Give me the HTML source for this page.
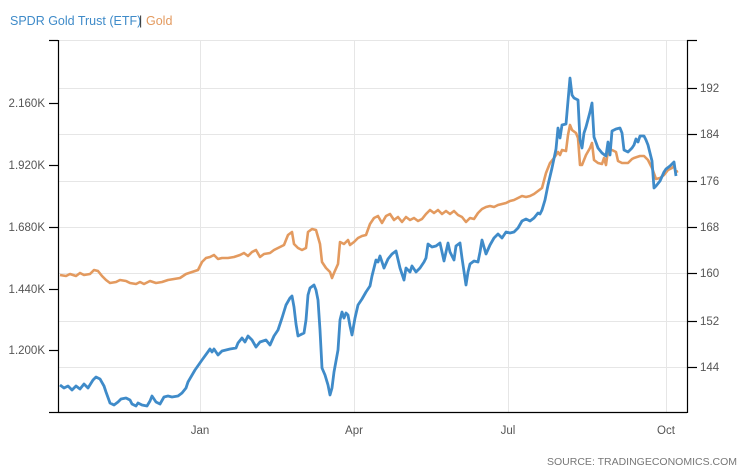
<!DOCTYPE html>
<html><head><meta charset="utf-8"><style>
body{margin:0;background:#fff;}
svg{display:block;font-family:"Liberation Sans",sans-serif;}
</style></head><body>
<svg width="746" height="468" viewBox="0 0 746 468">
<text x="10" y="25" font-size="12.5" fill="#3f8bc9">SPDR Gold Trust (ETF)</text>
<text x="139" y="25" font-size="12.5" fill="#333">|</text>
<text x="146" y="25" font-size="12.5" fill="#e39a5f">Gold</text>
<g stroke="#e6e6e6" stroke-width="1">
<line x1="59" y1="40.5" x2="687" y2="40.5"/>
<line x1="59" y1="88.5" x2="687" y2="88.5"/>
<line x1="59" y1="134.5" x2="687" y2="134.5"/>
<line x1="59" y1="181.5" x2="687" y2="181.5"/>
<line x1="59" y1="227.5" x2="687" y2="227.5"/>
<line x1="59" y1="273.5" x2="687" y2="273.5"/>
<line x1="59" y1="321.5" x2="687" y2="321.5"/>
<line x1="59" y1="367.5" x2="687" y2="367.5"/>
<line x1="200.5" y1="40" x2="200.5" y2="413"/>
<line x1="354.5" y1="40" x2="354.5" y2="413"/>
<line x1="508.5" y1="40" x2="508.5" y2="413"/>
<line x1="666.5" y1="40" x2="666.5" y2="413"/>
</g>
<g stroke="#000" stroke-width="1.2">
<line x1="58.5" y1="40" x2="58.5" y2="413"/>
<line x1="49" y1="40.5" x2="58" y2="40.5"/>
<line x1="49" y1="103.5" x2="58" y2="103.5"/>
<line x1="49" y1="165.5" x2="58" y2="165.5"/>
<line x1="49" y1="227.5" x2="58" y2="227.5"/>
<line x1="49" y1="289.5" x2="58" y2="289.5"/>
<line x1="49" y1="350.5" x2="58" y2="350.5"/>
<line x1="49" y1="412.5" x2="58" y2="412.5"/>
<line x1="58" y1="412.5" x2="687" y2="412.5"/>
<line x1="687.5" y1="40" x2="687.5" y2="413"/>
<line x1="687" y1="40.5" x2="697" y2="40.5"/>
<line x1="687" y1="88.5" x2="697" y2="88.5"/>
<line x1="687" y1="134.5" x2="697" y2="134.5"/>
<line x1="687" y1="181.5" x2="697" y2="181.5"/>
<line x1="687" y1="227.5" x2="697" y2="227.5"/>
<line x1="687" y1="273.5" x2="697" y2="273.5"/>
<line x1="687" y1="321.5" x2="697" y2="321.5"/>
<line x1="687" y1="367.5" x2="697" y2="367.5"/>
</g>
<g font-size="11.5" fill="#555" text-anchor="end">
<text x="45" y="107">2.160K</text>
<text x="45" y="169">1.920K</text>
<text x="45" y="231">1.680K</text>
<text x="45" y="293">1.440K</text>
<text x="45" y="354">1.200K</text>
</g>
<g font-size="11.5" fill="#555">
<text x="700" y="92">192</text>
<text x="700" y="138">184</text>
<text x="700" y="185">176</text>
<text x="700" y="231">168</text>
<text x="700" y="277">160</text>
<text x="700" y="325">152</text>
<text x="700" y="371">144</text>
</g>
<g font-size="11.5" fill="#555" text-anchor="middle">
<text x="200" y="434">Jan</text>
<text x="354" y="434">Apr</text>
<text x="508" y="434">Jul</text>
<text x="666" y="434">Oct</text>
</g>
<text x="737" y="465" font-size="10.5" fill="#777" text-anchor="end">SOURCE: TRADINGECONOMICS.COM</text>
<polyline fill="none" stroke="#e39a5f" stroke-width="2.6" stroke-linejoin="round" points="60,275 66,276 70,274 76,276 80,273 84,275 90,274 94,270 98,271 102,276 106,280 110,283 116,282 120,280 126,281 130,283 136,284 140,282 144,284 150,281 156,283 162,282 168,280 174,279 180,278 186,274 192,272 198,270 202,262 206,258 210,257 214,255 218,259 222,258 228,258 234,257 240,255 244,253 248,256 252,252 256,250 260,257 264,254 270,253 274,250 278,248 284,245 288,235 292,232 294,244 298,248 302,250 306,248 308,232 312,229 316,230 320,244 322,262 326,268 330,272 332,278 334,273 338,264 340,242 344,244 348,240 350,245 354,242 358,238 362,236 366,235 370,224 374,218 378,216 382,223 386,216 390,214 394,220 398,217 402,222 406,217 410,220 414,218 418,221 422,219 426,214 430,210 434,213 438,210 442,214 446,211 450,214 454,211 458,215 462,217 466,222 470,218 474,219 478,213 482,209 486,207 490,206 494,207 498,205 502,204 506,203 510,201 514,200 518,198 522,196 526,197 530,196 534,194 538,191 542,188 546,173 550,163 554,158 558,152 560,155 562,150 566,151 568,135 570,125 572,130 576,133 578,138 580,165 582,165 586,155 590,148 592,143 594,160 598,163 602,164 604,158 606,165 608,150 612,150 616,152 618,161 622,163 628,163 632,159 634,158 640,156 644,156 648,160 652,168 656,179 660,178 664,175 668,170 672,168 674,166 676,172 678,171"/>
<polyline fill="none" stroke="#3f8bc9" stroke-width="2.8" stroke-linejoin="round" points="60,385 64,388 68,386 72,390 76,386 80,389 84,384 88,388 93,380 96,377 100,379 104,386 106,392 110,403 114,405 118,402 121,399 126,398 130,400 132,404 136,406 138,403 142,405 147,406 150,401 152,396 156,402 160,404 164,397 168,396 172,397 178,396 182,393 186,388 188,382 195,370 202,360 210,349 212,352 214,349 218,355 222,351 226,350 230,349 236,348 238,343 242,338 245,342 248,336 252,340 256,347 260,342 266,340 270,345 274,336 278,330 282,318 286,305 290,298 292,296 294,307 296,324 298,336 300,335 304,333 306,320 308,295 310,288 314,285 316,290 318,300 320,330 322,368 325,375 328,385 330,395 332,388 334,372 338,350 340,320 342,312 344,318 346,313 348,315 350,326 352,335 355,318 358,305 362,299 366,292 370,286 372,276 376,260 378,262 380,256 384,268 388,259 392,254 396,251 400,268 404,280 406,268 410,272 412,266 416,272 420,268 424,262 426,258 428,244 432,247 436,246 440,243 444,261 448,243 450,252 454,260 456,246 460,243 462,258 466,285 468,272 470,264 474,261 478,262 480,252 482,240 486,254 490,245 494,238 498,234 502,238 506,232 510,233 514,232 518,228 522,221 526,219 530,221 534,218 538,213 540,214 542,210 545,200 548,185 552,168 556,149 558,128 560,138 562,125 566,124 568,101 570,78 572,95 574,98 578,100 580,140 582,148 584,133 586,127 590,112 592,103 594,137 598,148 602,153 606,156 608,142 610,155 612,131 616,129 620,128 622,133 624,150 628,152 632,148 634,145 636,139 638,142 640,136 644,136 646,140 648,145 652,161 654,188 656,186 660,181 664,172 666,169 670,166 674,162 676,176"/>
</svg>
</body></html>
